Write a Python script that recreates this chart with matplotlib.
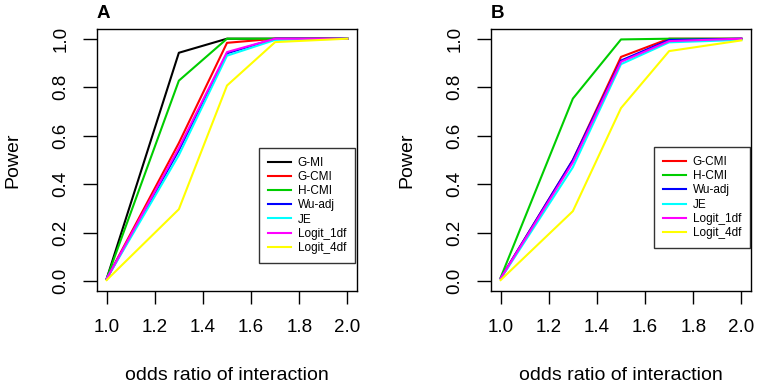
import matplotlib
matplotlib.use("Agg")
import matplotlib.pyplot as plt

plt.rcParams['font.family'] = ['Liberation Sans', 'DejaVu Sans']

odds = [1.0, 1.3, 1.5, 1.7, 2.0]

# panel A
names_a = ["G-MI", "G-CMI", "H-CMI", "Wu-adj", "JE", "Logit_1df", "Logit_4df"]
gmi_a = [0.01, 0.942, 1.0, 1.0, 1.0]
gcmi_a = [0.01, 0.57, 0.983, 1.0, 1.0]
hcmi_a = [0.01, 0.827, 1.0, 1.0, 1.0]
wuadj_a = [0.01, 0.54, 0.94, 1.0, 1.0]
je_a = [0.01, 0.52, 0.93, 0.995, 1.0]
logit1_a = [0.01, 0.55, 0.945, 1.0, 1.0]
logit4_a = [0.005, 0.297, 0.807, 0.986, 1.0]

# panel B
names_b = ["G-CMI", "H-CMI", "Wu-adj", "JE", "Logit_1df", "Logit_4df"]
gcmi_b = [0.012, 0.50, 0.925, 1.0, 1.0]
hcmi_b = [0.015, 0.753, 0.997, 1.0, 1.0]
wuadj_b = [0.012, 0.50, 0.91, 0.995, 1.0]
je_b = [0.01, 0.47, 0.895, 0.985, 0.995]
logit1_b = [0.012, 0.49, 0.905, 0.99, 1.0]
logit4_b = [0.005, 0.289, 0.714, 0.949, 0.993]

colors_a = ["black", "#FF0000", "#00CD00", "#0000FF", "#00FFFF", "#FF00FF", "#FFFF00"]
colors_b = colors_a[1:]

fig = plt.figure(figsize=(7.59, 3.87), dpi=100)
axA = fig.add_axes([97 / 759, 1 - 291 / 387, 260 / 759, 262 / 387])
axB = fig.add_axes([491 / 759, 1 - 291 / 387, 260 / 759, 262 / 387])

panels = [
    (axA, "A", names_a, [gmi_a, gcmi_a, hcmi_a, wuadj_a, je_a, logit1_a, logit4_a], colors_a, (0.992, 0.107)),
    (axB, "B", names_b, [gcmi_b, hcmi_b, wuadj_b, je_b, logit1_b, logit4_b], colors_b, (0.996, 0.164)),
]

for ax, letter, names, series, cols, legpos in panels:
    for name, vals, c in zip(names, series, cols):
        ax.plot(odds, vals, color=c, lw=1.5, label=name)
    ax.set_xlim(0.96, 2.04)
    ax.set_ylim(-0.04, 1.04)
    ax.set_xticks([1.0, 1.2, 1.4, 1.6, 1.8, 2.0])
    ax.set_yticks([0.0, 0.2, 0.4, 0.6, 0.8, 1.0])
    ax.set_xticklabels(["1.0", "1.2", "1.4", "1.6", "1.8", "2.0"], fontsize=13.5)
    ax.set_yticklabels(["0.0", "0.2", "0.4", "0.6", "0.8", "1.0"], fontsize=13.5,
                       rotation=90, va="center")
    ax.tick_params(axis="x", length=9.5, width=1, pad=11)
    ax.tick_params(axis="y", length=10, width=1, pad=10)
    for s in ax.spines.values():
        s.set_linewidth(1)
    ax.set_xlabel("odds ratio of interaction", fontsize=14, va="center")
    ax.xaxis.set_label_coords(0.5, -0.324)
    ax.set_ylabel("Power", fontsize=14, va="center")
    ax.yaxis.set_label_coords(-0.323, 0.5)
    ax.text(0.0, 1.061, letter, transform=ax.transAxes, fontsize=13.5,
            fontweight="bold", ha="left", va="center")
    leg = ax.legend(loc="lower right", bbox_to_anchor=legpos, fontsize=8.5,
                    frameon=True, fancybox=False, edgecolor="black",
                    handlelength=1.9, handletextpad=0.6, labelspacing=0.19,
                    borderpad=0.75, borderaxespad=0)
    leg.get_frame().set_linewidth(1)

fig.savefig("out.png", dpi=100)
